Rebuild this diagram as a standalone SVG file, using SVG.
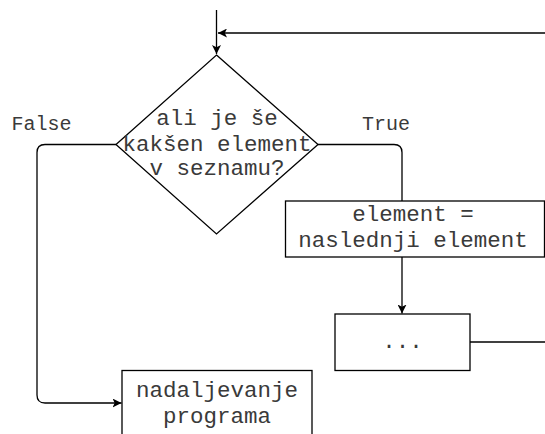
<svg xmlns="http://www.w3.org/2000/svg" width="545" height="434" viewBox="0 0 545 434">
  <style>
    .shape { fill: #ffffff; stroke: #000000; stroke-width: 1.3; }
    .conn { fill: none; stroke: #000000; stroke-width: 1.3; }
    .txt { font-family: "Liberation Mono", "Courier New", monospace; font-size: 22.5px; fill: #3a3a3a; text-anchor: middle; }
    .lbl { font-family: "Liberation Mono", "Courier New", monospace; font-size: 20px; fill: #3a3a3a; }
  </style>
  <defs>
    <marker id="arrow" markerUnits="userSpaceOnUse" markerWidth="10" markerHeight="9" refX="9" refY="4.5" orient="auto">
      <path d="M0,0 L9,4.5 L0,9 L2.2,4.5 Z" fill="#000000"/>
    </marker>
  </defs>
  <rect width="545" height="434" fill="#ffffff"/>

  <g id="connectors">
    <path class="conn" d="M216.5,10 V54" marker-end="url(#arrow)"/>
    <path class="conn" d="M545,33 H218" stroke="#444444" marker-end="url(#arrow)"/>
    <path class="conn" d="M470,342 H545"/>
    <path class="conn" d="M116,144.5 H45 Q37,144.5 37,152.5 V395 Q37,403 45,403 H121.5" marker-end="url(#arrow)"/>
    <path class="conn" d="M318,144.5 H394 Q402,144.5 402,152.5 V201"/>
    <path class="conn" d="M402,257 V313.5" marker-end="url(#arrow)"/>
    <text class="lbl" x="11.5" y="130">False</text>
    <text class="lbl" x="362" y="129.5">True</text>
  </g>

  <g id="decision">
    <polygon class="shape" points="216.5,55 318,144.5 216.5,234 116,144.5"/>
    <text class="txt" x="217" y="125">ali je še</text>
    <text class="txt" x="217" y="150.5">kakšen element</text>
    <text class="txt" x="217" y="175">v seznamu?</text>
  </g>

  <g id="next-element">
    <rect class="shape" x="285.5" y="201" width="259" height="56"/>
    <text class="txt" x="413" y="221">element =</text>
    <text class="txt" x="413" y="247">naslednji element</text>
  </g>

  <g id="dots">
    <rect class="shape" x="335" y="314" width="135" height="56.5"/>
    <text class="txt" x="402.5" y="348">...</text>
  </g>

  <g id="continue">
    <rect class="shape" x="122" y="370.5" width="190" height="80"/>
    <text class="txt" x="217" y="397">nadaljevanje</text>
    <text class="txt" x="217" y="423">programa</text>
  </g>
</svg>
